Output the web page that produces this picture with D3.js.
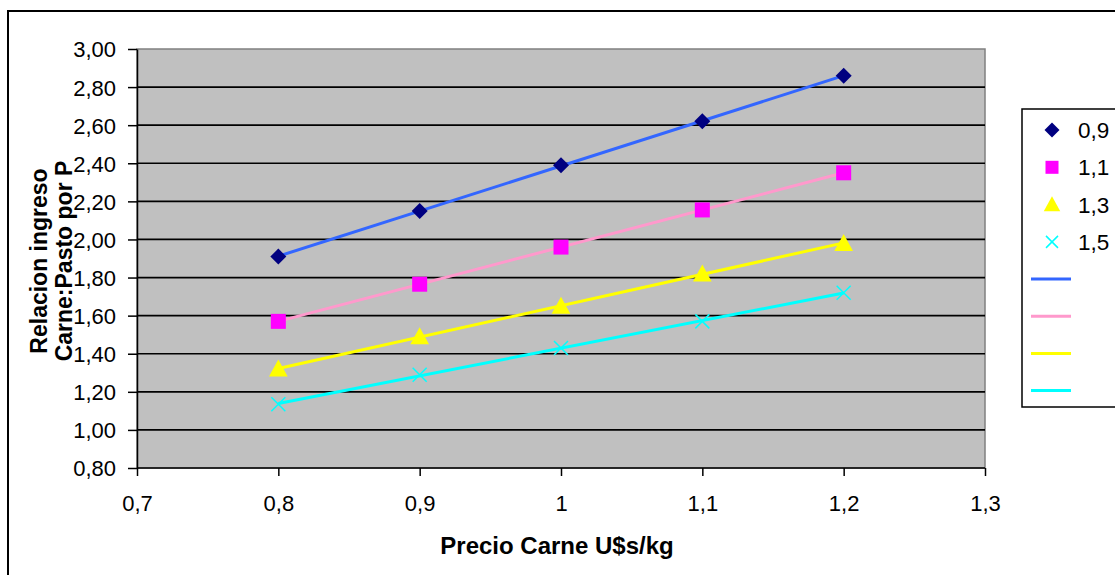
<!DOCTYPE html>
<html><head><meta charset="utf-8">
<script src="https://cdn.jsdelivr.net/npm/d3@7"></script>
<style>body{margin:0;background:#fff}svg{display:block}text{font-family:"Liberation Sans",Arial,sans-serif}</style>
</head><body><svg id="c" width="1115" height="575"></svg>
<script>
const xValues = [0.8, 0.9, 1.0, 1.1, 1.2];
const seriesNames = ["0,9", "1,1", "1,3", "1,5"];
const s09 = [1.91, 2.15, 2.39, 2.62, 2.86];
const s11 = [1.57, 1.765, 1.96, 2.155, 2.35];
const s13 = [1.32, 1.49, 1.65, 1.82, 1.98];
const s15 = [1.135, 1.29, 1.43, 1.57, 1.72];
const xTicks = [0.7, 0.8, 0.9, 1.0, 1.1, 1.2, 1.3];
const yTicks = [0.8, 1.0, 1.2, 1.4, 1.6, 1.8, 2.0, 2.2, 2.4, 2.6, 2.8, 3.0];

const series = [
  {name: seriesNames[0], values: s09, marker: "diamond", mcol: "#000080", lcol: "#3366FF"},
  {name: seriesNames[1], values: s11, marker: "square", mcol: "#FF00FF", lcol: "#FF99CC"},
  {name: seriesNames[2], values: s13, marker: "triangle", mcol: "#FFFF00", lcol: "#FFFF00"},
  {name: seriesNames[3], values: s15, marker: "x", mcol: "#00FFFF", lcol: "#00FFFF"}
];

const svg = d3.select("#c");
const L = 137, T = 49, R = 985, B = 468;
const x = d3.scaleLinear().domain([0.7, 1.3]).range([L, R]);
const y = d3.scaleLinear().domain([0.8, 3.0]).range([B, T]);
const fmt = v => d3.format(".2f")(v).replace(".", ",");
const fmtX = v => (Math.round(v*10)/10).toString().replace(".", ",");
const FF = '"Liberation Sans", Arial, sans-serif';

// outer frame
svg.append("rect").attr("x", 8).attr("y", 11).attr("width", 1130).attr("height", 600)
  .attr("fill", "none").attr("stroke", "#000").attr("stroke-width", 2);

// plot area
svg.append("rect").attr("x", L).attr("y", T).attr("width", R - L).attr("height", B - T)
  .attr("fill", "#C0C0C0").attr("stroke", "#808080").attr("stroke-width", 1.5);

// gridlines
svg.append("g").selectAll("line").data(yTicks.filter(v => v > 0.81 && v < 2.99)).join("line")
  .attr("x1", L).attr("x2", R).attr("y1", d => y(d)).attr("y2", d => y(d))
  .attr("stroke", "#000").attr("stroke-width", 1.7);

// axes
const yAxis = d3.axisLeft(y).tickValues(yTicks).tickFormat(fmt).tickSize(9).tickSizeOuter(0).tickPadding(12);
const gy = svg.append("g").attr("transform", `translate(${L},0)`).call(yAxis);
const xAxis = d3.axisBottom(x).tickValues(xTicks).tickFormat(fmtX).tickSize(8).tickSizeOuter(0);
const gx = svg.append("g").attr("transform", `translate(0,${B})`).call(xAxis);
[gx, gy].forEach(g => {
  g.attr("font-family", null).attr("font-size", null);
  g.select(".domain").attr("stroke", "#000").attr("stroke-width", 1.5);
  g.selectAll(".tick line").attr("stroke", "#000").attr("stroke-width", 1.5);
  g.selectAll(".tick text").attr("fill", "#000").style("font-family", FF).style("font-size", "22px");
});
gy.selectAll(".tick text").attr("dy", "0.36em");
gx.selectAll(".tick text").attr("y", 43).attr("dy", 0);
gx.select(".domain").attr("d", `M${L},0H${R}`);

// trendlines (linear least-squares fit of each series)
function fit(xs, ys) {
  const mx = d3.mean(xs), my = d3.mean(ys);
  const b = d3.sum(xs, (v, i) => (v - mx) * (ys[i] - my)) / d3.sum(xs, v => (v - mx) ** 2);
  return v => my + b * (v - mx);
}
const xMin = d3.min(xValues), xMax = d3.max(xValues);
series.forEach(s => {
  const f = fit(xValues, s.values);
  svg.append("line").attr("x1", x(xMin)).attr("x2", x(xMax))
    .attr("y1", y(f(xMin))).attr("y2", y(f(xMax)))
    .attr("stroke", s.lcol).attr("stroke-width", 3);
});

function drawMarker(g, type, col, cx, cy, sz) {
  if (type === "diamond") {
    g.append("path").attr("d", `M${cx},${cy - sz/2}L${cx + sz/2},${cy}L${cx},${cy + sz/2}L${cx - sz/2},${cy}Z`).attr("fill", col);
  } else if (type === "square") {
    g.append("rect").attr("x", cx - sz/2).attr("y", cy - sz/2).attr("width", sz).attr("height", sz).attr("fill", col);
  } else if (type === "triangle") {
    g.append("path").attr("d", `M${cx},${cy - sz*0.55}L${cx + sz*0.55},${cy + sz*0.45}L${cx - sz*0.55},${cy + sz*0.45}Z`).attr("fill", col);
  } else {
    const h = sz/2;
    g.append("path").attr("d", `M${cx - h},${cy - h}L${cx + h},${cy + h}M${cx - h},${cy + h}L${cx + h},${cy - h}`)
      .attr("stroke", col).attr("stroke-width", 1.5).attr("fill", "none");
  }
}
const sizes = {diamond: 16, square: 15, triangle: 17, x: 14};
series.forEach(s => {
  const g = svg.append("g");
  s.values.forEach((v, i) => drawMarker(g, s.marker, s.mcol, x(xValues[i]), y(v), sizes[s.marker]));
});

// axis titles
svg.append("text").attr("x", 557).attr("y", 554).attr("text-anchor", "middle")
  .style("font-size", "24px").attr("font-weight", "bold").text("Precio Carne U$s/kg");
const yt = svg.append("text").attr("transform", "translate(0,261) rotate(-90)")
  .attr("text-anchor", "middle").style("font-size", "23px").attr("font-weight", "bold");
yt.append("tspan").attr("x", 0).attr("y", 46.5).text("Relacion ingreso");
yt.append("tspan").attr("x", 0).attr("y", 72).text("Carne:Pasto por P");

// legend
svg.append("rect").attr("x", 1022).attr("y", 109).attr("width", 120).attr("height", 298)
  .attr("fill", "#fff").attr("stroke", "#000").attr("stroke-width", 1.5);
const lg = svg.append("g");
const legSizes = {diamond: 15, square: 13, triangle: 15, x: 12};
series.forEach((s, i) => {
  const cy = 130 + i * 37.3;
  drawMarker(lg, s.marker, s.mcol, 1052, cy, legSizes[s.marker]);
  lg.append("text").attr("x", 1078).attr("y", cy + 8).style("font-size", "22.5px").text(s.name);
});
series.forEach((s, i) => {
  const cy = 279 + i * 37.2;
  lg.append("line").attr("x1", 1031).attr("x2", 1071).attr("y1", cy).attr("y2", cy)
    .attr("stroke", s.lcol).attr("stroke-width", 3);
});
</script></body></html>
